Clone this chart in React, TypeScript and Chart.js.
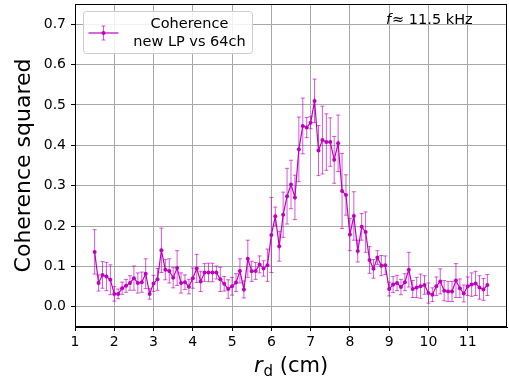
import React, { useEffect, useRef } from 'react';
import { Chart, registerables } from 'chart.js';

Chart.register(...registerables);

const rPositions = [
  1.5, 1.6, 1.7, 1.8, 1.9, 2.0, 2.1, 2.2, 2.3, 2.4,
  2.5, 2.6, 2.7, 2.8, 2.9, 3.0, 3.1, 3.2, 3.3, 3.4,
  3.5, 3.6, 3.7, 3.8, 3.9, 4.0, 4.1, 4.2, 4.3, 4.4,
  4.5, 4.6, 4.7, 4.8, 4.9, 5.0, 5.1, 5.2, 5.3, 5.4,
  5.5, 5.6, 5.7, 5.8, 5.9, 6.0, 6.1, 6.2, 6.3, 6.4,
  6.5, 6.6, 6.7, 6.8, 6.9, 7.0, 7.1, 7.2, 7.3, 7.4,
  7.5, 7.6, 7.7, 7.8, 7.9, 8.0, 8.1, 8.2, 8.3, 8.4,
  8.5, 8.6, 8.7, 8.8, 8.9, 9.0, 9.1, 9.2, 9.3, 9.4,
  9.5, 9.6, 9.7, 9.8, 9.9, 10.0, 10.1, 10.2, 10.3, 10.4,
  10.5, 10.6, 10.7, 10.8, 10.9, 11.0, 11.1, 11.2, 11.3, 11.4,
  11.5,
];

const coherence = [
  0.136, 0.059, 0.079, 0.075, 0.067, 0.032, 0.032, 0.046, 0.052, 0.059,
  0.071, 0.059, 0.061, 0.082, 0.032, 0.058, 0.068, 0.140, 0.092, 0.089,
  0.072, 0.096, 0.059, 0.061, 0.050, 0.071, 0.095, 0.063, 0.085, 0.085,
  0.085, 0.085, 0.068, 0.057, 0.044, 0.051, 0.060, 0.089, 0.043, 0.119,
  0.088, 0.089, 0.105, 0.095, 0.103, 0.178, 0.224, 0.150, 0.228, 0.274,
  0.303, 0.271, 0.390, 0.448, 0.444, 0.456, 0.510, 0.387, 0.413, 0.408,
  0.408, 0.364, 0.405, 0.287, 0.277, 0.179, 0.225, 0.138, 0.198, 0.185,
  0.116, 0.094, 0.122, 0.102, 0.103, 0.044, 0.055, 0.059, 0.049, 0.061,
  0.092, 0.044, 0.048, 0.051, 0.054, 0.034, 0.030, 0.051, 0.063, 0.040,
  0.038, 0.038, 0.065, 0.046, 0.033, 0.051, 0.055, 0.058, 0.048, 0.043,
  0.054,
];

const coherenceErr = [
  0.055, 0.020, 0.033, 0.035, 0.037, 0.018, 0.012, 0.015, 0.016, 0.018,
  0.030, 0.025, 0.025, 0.037, 0.013, 0.020, 0.027, 0.055, 0.025, 0.030,
  0.025, 0.043, 0.025, 0.018, 0.018, 0.025, 0.035, 0.025, 0.022, 0.023,
  0.023, 0.016, 0.030, 0.018, 0.023, 0.022, 0.022, 0.030, 0.021, 0.046,
  0.025, 0.021, 0.021, 0.019, 0.040, 0.093, 0.023, 0.037, 0.056, 0.069,
  0.060, 0.055, 0.080, 0.069, 0.025, 0.015, 0.054, 0.062, 0.084, 0.070,
  0.060, 0.058, 0.070, 0.093, 0.050, 0.040, 0.060, 0.027, 0.033, 0.050,
  0.033, 0.023, 0.017, 0.025, 0.023, 0.017, 0.020, 0.019, 0.019, 0.021,
  0.043, 0.021, 0.025, 0.030, 0.023, 0.025, 0.017, 0.023, 0.031, 0.025,
  0.025, 0.025, 0.042, 0.023, 0.021, 0.023, 0.029, 0.030, 0.029, 0.027,
  0.026,
];

const xTicks = [1, 2, 3, 4, 5, 6, 7, 8, 9, 10, 11];
const yTicks = [0.0, 0.1, 0.2, 0.3, 0.4, 0.5, 0.6, 0.7];

const legendLines = ['Coherence', 'new LP vs 64ch'];
const freqLabel = '≈ 11.5 kHz';

const MAGENTA = '#bf00bf';
const MAGENTA_LIGHT = 'rgba(191,0,191,0.65)';
const FONT = "'DejaVu Sans', sans-serif";

export default function App() {
  const ref = useRef<HTMLCanvasElement>(null);

  useEffect(() => {
    if (!ref.current) return;

    const errPlugin = {
      id: 'errbars',
      beforeDatasetsDraw(chart: any) {
        const { ctx, scales } = chart;
        const x = scales.x;
        const y = scales.y;
        ctx.save();
        ctx.strokeStyle = MAGENTA_LIGHT;
        ctx.lineWidth = 1;
        for (let i = 0; i < coherence.length; i++) {
          const px = x.getPixelForValue(rPositions[i]);
          const top = y.getPixelForValue(coherence[i] + coherenceErr[i]);
          const bot = y.getPixelForValue(coherence[i] - coherenceErr[i]);
          ctx.beginPath();
          ctx.moveTo(px, top);
          ctx.lineTo(px, bot);
          ctx.moveTo(px - 2, top);
          ctx.lineTo(px + 2, top);
          ctx.moveTo(px - 2, bot);
          ctx.lineTo(px + 2, bot);
          ctx.stroke();
        }
        ctx.restore();
      },
    };

    const decorPlugin = {
      id: 'decor',
      afterDraw(chart: any) {
        const { ctx, chartArea } = chart;
        const { left, right, top, bottom } = chartArea;
        ctx.save();
        // frame
        ctx.strokeStyle = '#000';
        ctx.lineWidth = 1;
        ctx.strokeRect(left + 0.5, top + 0.5, right - left - 1, bottom - top - 1);

        // legend
        const lx = left + 8.5;
        const ly = top + 7.5;
        const lw = 169;
        const lh = 42;
        ctx.beginPath();
        ctx.roundRect(lx, ly, lw, lh, 3);
        ctx.fillStyle = 'rgba(255,255,255,0.85)';
        ctx.fill();
        ctx.strokeStyle = '#cccccc';
        ctx.stroke();
        const hy = ly + 21.5;
        const hx0 = lx + 5;
        const hx1 = lx + 35;
        const hxm = (hx0 + hx1) / 2;
        ctx.strokeStyle = MAGENTA;
        ctx.lineWidth = 1.2;
        ctx.beginPath();
        ctx.moveTo(hx0, hy);
        ctx.lineTo(hx1, hy);
        ctx.stroke();
        ctx.strokeStyle = MAGENTA_LIGHT;
        ctx.lineWidth = 1;
        ctx.beginPath();
        ctx.moveTo(hxm, hy - 7);
        ctx.lineTo(hxm, hy + 7);
        ctx.moveTo(hxm - 2, hy - 7);
        ctx.lineTo(hxm + 2, hy - 7);
        ctx.moveTo(hxm - 2, hy + 7);
        ctx.lineTo(hxm + 2, hy + 7);
        ctx.stroke();
        ctx.fillStyle = MAGENTA;
        ctx.beginPath();
        ctx.arc(hxm, hy, 2, 0, Math.PI * 2);
        ctx.fill();
        ctx.fillStyle = '#000';
        ctx.font = `14.5px ${FONT}`;
        ctx.textAlign = 'center';
        ctx.textBaseline = 'middle';
        ctx.fillText(legendLines[0], lx + 106, ly + 13);
        ctx.fillText(legendLines[1], lx + 106, ly + 30.5);

        // frequency annotation
        ctx.textAlign = 'left';
        ctx.font = `italic 14.5px ${FONT}`;
        const fx = 386;
        const fy = top + 16;
        ctx.fillText('f', fx, fy);
        const fw = ctx.measureText('f').width;
        ctx.font = `14.5px ${FONT}`;
        ctx.fillText(freqLabel, fx + fw + 1, fy);

        // x label
        ctx.textBaseline = 'alphabetic';
        const mid = (left + right) / 2;
        ctx.font = `italic 21px ${FONT}`;
        const rW = ctx.measureText('r').width;
        ctx.font = `15px ${FONT}`;
        const dW = ctx.measureText('d').width;
        ctx.font = `21px ${FONT}`;
        const cmW = ctx.measureText(' (cm)').width;
        const total = rW + dW + cmW + 1;
        let cx = mid - total / 2;
        const base = 372;
        ctx.font = `italic 21px ${FONT}`;
        ctx.fillText('r', cx, base);
        cx += rW + 1;
        ctx.font = `15px ${FONT}`;
        ctx.fillText('d', cx, base + 4);
        cx += dW;
        ctx.font = `21px ${FONT}`;
        ctx.fillText(' (cm)', cx, base);

        // y label
        ctx.translate(24, (top + bottom) / 2);
        ctx.rotate(-Math.PI / 2);
        ctx.textAlign = 'center';
        ctx.textBaseline = 'middle';
        ctx.font = `22px ${FONT}`;
        ctx.fillText('Coherence squared', 0, 0);
        ctx.restore();
      },
    };

    const chart = new Chart(ref.current, {
      type: 'scatter',
      data: {
        datasets: [
          {
            label: 'Coherence new LP vs 64ch',
            data: rPositions.map((r, i) => ({ x: r, y: coherence[i] })),
            showLine: true,
            borderColor: MAGENTA,
            backgroundColor: MAGENTA,
            borderWidth: 1.2,
            pointRadius: 2,
            pointHoverRadius: 2,
            pointBorderWidth: 0,
            tension: 0,
          },
        ],
      },
      options: {
        responsive: false,
        animation: false,
        events: [],
        layout: { padding: { top: 4, right: 1, left: 0, bottom: 0 } },
        plugins: {
          legend: { display: false },
          tooltip: { enabled: false },
          title: { display: false },
        },
        scales: {
          x: {
            type: 'linear',
            min: 1,
            max: 12,
            afterBuildTicks: (scale: any) => {
              scale.ticks = xTicks.map((v) => ({ value: v }));
            },
            afterFit: (scale: any) => {
              scale.height = 56;
              scale.paddingLeft = 0;
              scale.paddingRight = 0;
            },
            ticks: {
              color: '#000',
              font: { family: FONT, size: 14 },
              padding: 3,
              maxRotation: 0,
              autoSkip: false,
              callback: (v: any) => String(v),
            },
            grid: {
              color: '#a8a8a8',
              lineWidth: 1,
              tickColor: '#000',
              tickLength: 4,
            },
            border: { display: true, color: '#000', width: 1 },
          },
          y: {
            type: 'linear',
            min: -0.05,
            max: 0.75,
            afterBuildTicks: (scale: any) => {
              scale.ticks = yTicks.map((v) => ({ value: v }));
            },
            afterFit: (scale: any) => {
              scale.width = 75;
              scale.paddingTop = 0;
              scale.paddingBottom = 0;
            },
            ticks: {
              color: '#000',
              font: { family: FONT, size: 14 },
              padding: 5,
              autoSkip: false,
              callback: (v: any) => Number(v).toFixed(1),
            },
            grid: {
              color: '#a8a8a8',
              lineWidth: 1,
              tickColor: '#000',
              tickLength: 4,
            },
            border: { display: true, color: '#000', width: 1 },
          },
        },
      },
      plugins: [errPlugin, decorPlugin],
    } as any);

    return () => chart.destroy();
  }, []);

  return (
    <div style={{ position: 'absolute', left: 0, top: 0, width: 509, height: 383, background: '#fff' }}>
      <canvas ref={ref} width={509} height={383} />
    </div>
  );
}
